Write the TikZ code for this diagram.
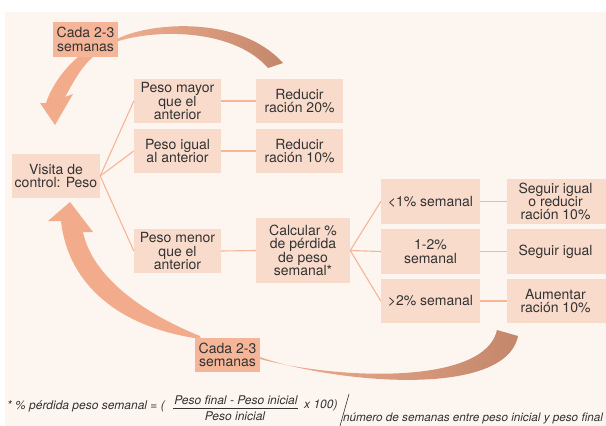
\documentclass[tikz,border=0pt]{standalone}
\usepackage{fontspec}
\setmainfont{TeX Gyre Heros}
\definecolor{bg}{HTML}{FDF5F0}
\definecolor{boxfill}{HTML}{F9DBCB}
\definecolor{cadafill}{HTML}{F4B598}
\definecolor{linec}{HTML}{F6B597}
\definecolor{arrowc}{HTML}{F2AB8B}
\definecolor{brownc}{HTML}{C4876B}
\definecolor{brownm}{HTML}{C98C70}
\definecolor{pinkend}{HTML}{F0AE90}
\definecolor{txt}{HTML}{333333}
\begin{document}
\begin{tikzpicture}[x=1pt,y=-1pt,
  box/.style={fill=boxfill, draw=none, inner sep=0pt, align=center, text=txt,
    font=\fontsize{14}{13.4}\selectfont},
  cada/.style={box, fill=cadafill},
  conn/.style={draw=linec, line width=1.1pt},
  note/.style={font=\fontsize{12}{13}\selectfont\itshape, text=txt, inner sep=0pt},
  bigarrow/.style={fill=arrowc, draw=none},
]
\clip (0,0) rectangle (606,426);
\fill[white] (0,0) rectangle (606,426);
\fill[bg] (5,12) rectangle (606,426);

% curved arrows
\shade[left color=pinkend, middle color=brownm, right color=brownc]
  (117,39) .. controls (150,22) and (240,15) .. (283,63) -- (268,68)
  .. controls (235,30) and (160,28) .. (117,41.5) -- cycle;
\fill[bigarrow] (78,57) .. controls (65,68) and (52,85) .. (46,103)
  -- (40,103) -- (55,125) -- (73,94) -- (65,97)
  .. controls (72,85) and (80,68) .. (93,57) -- cycle;
\shade[left color=pinkend, middle color=brownm, right color=brownc]
  (260,357) .. controls (330,382) and (505,400) .. (518,336) -- (497,330)
  .. controls (485,385) and (340,380) .. (260,359) -- cycle;
\fill[bigarrow] (61,221) .. controls (68,285) and (120,328) .. (201,339)
  -- (200,336) .. controls (140,312) and (92,275) .. (83,232)
  -- (93,232) -- (70,202) -- (48,221) -- cycle;

% nodes
\node[cada, minimum width=65pt, minimum height=35pt] (cadaT) at (85.5,39.5) {Cada 2-3\\semanas};
\node[cada, minimum width=65pt, minimum height=34pt] (cadaB) at (227.5,355) {Cada 2-3\\semanas};
\node[box, minimum width=88pt, minimum height=44pt] (visita) at (56,176) {Visita de\\control: Peso};
\node[box, minimum width=87pt, minimum height=44pt] (mayor) at (177.5,101) {Peso mayor\\que el\\anterior};
\node[box, minimum width=87pt, minimum height=44pt] (igual) at (177.5,151) {Peso igual\\al anterior};
\node[box, minimum width=87pt, minimum height=44pt] (menor) at (177.5,251) {Peso menor\\que el\\anterior};
\node[box, minimum width=87pt, minimum height=44pt] (red20) at (299.5,101) {Reducir\\ración 20\%};
\node[box, minimum width=87pt, minimum height=44pt] (red10) at (299.5,151) {Reducir\\ración 10\%};
\node[box, minimum width=94pt, minimum height=65pt] (calc) at (303,250.5) {Calcular \%\\de pérdida\\de peso\\semanal*};
\node[box, minimum width=99pt, minimum height=45pt] (lt1) at (430.5,201.5) {<1\% semanal};
\node[box, minimum width=99pt, minimum height=45pt] (b12) at (430.5,251.5) {1-2\%\\semanal};
\node[box, minimum width=99pt, minimum height=44pt] (gt2) at (430.5,301) {>2\% semanal};
\node[box, minimum width=97pt, minimum height=45pt] (seg1) at (555.5,201.5) {Seguir igual\\o reducir\\ración 10\%};
\node[box, minimum width=97pt, minimum height=45pt] (seg2) at (555.5,251.5) {Seguir igual};
\node[box, minimum width=97pt, minimum height=44pt] (aum) at (555.5,301) {Aumentar\\ración 10\%};
\fill[boxfill] (seg1.north east) rectangle (606,224);
\fill[boxfill] (seg2.north east) rectangle (606,274);
\fill[boxfill] (aum.north east) rectangle (606,323);

% connectors
\draw[conn] (visita.east) -- (mayor.west);
\draw[conn] (visita.east) -- (igual.west);
\draw[conn] (visita.east) -- (menor.west);
\draw[conn] (mayor.east) -- (red20.west);
\draw[conn] (igual.east) -- (red10.west);
\draw[conn] (menor.east) -- (calc.west);
\draw[conn] (calc.east) -- (lt1.west);
\draw[conn] (calc.east) -- (b12.west);
\draw[conn] (calc.east) -- (gt2.west);
\draw[conn] (lt1.east) -- (seg1.west);
\draw[conn] (b12.east) -- (seg2.west);
\draw[conn] (gt2.east) -- (aum.west);

% footnote
\node[note, anchor=west] (fa) at (7,406) {* \% pérdida peso semanal = (};
\node[note] (fnum) at (236,400) {Peso final - Peso inicial};
\node[note] (fden) at (235,416.5) {Peso inicial};
\coordinate (barL) at (173,408);
\coordinate (barR) at (298,408);
\draw[txt, line width=0.6pt] (barL) -- (barR);
\node[note, anchor=west] (fx) at (304,405) {x 100)};
\coordinate (slT) at (349,394);
\coordinate (slB) at (340,426);
\draw[txt, line width=0.6pt] (slT) -- (slB);
\node[note, anchor=west, font=\fontsize{11.7}{13}\selectfont\itshape] (fsem) at (343,418) {número de semanas entre peso inicial y peso final};
\end{tikzpicture}
\end{document}
